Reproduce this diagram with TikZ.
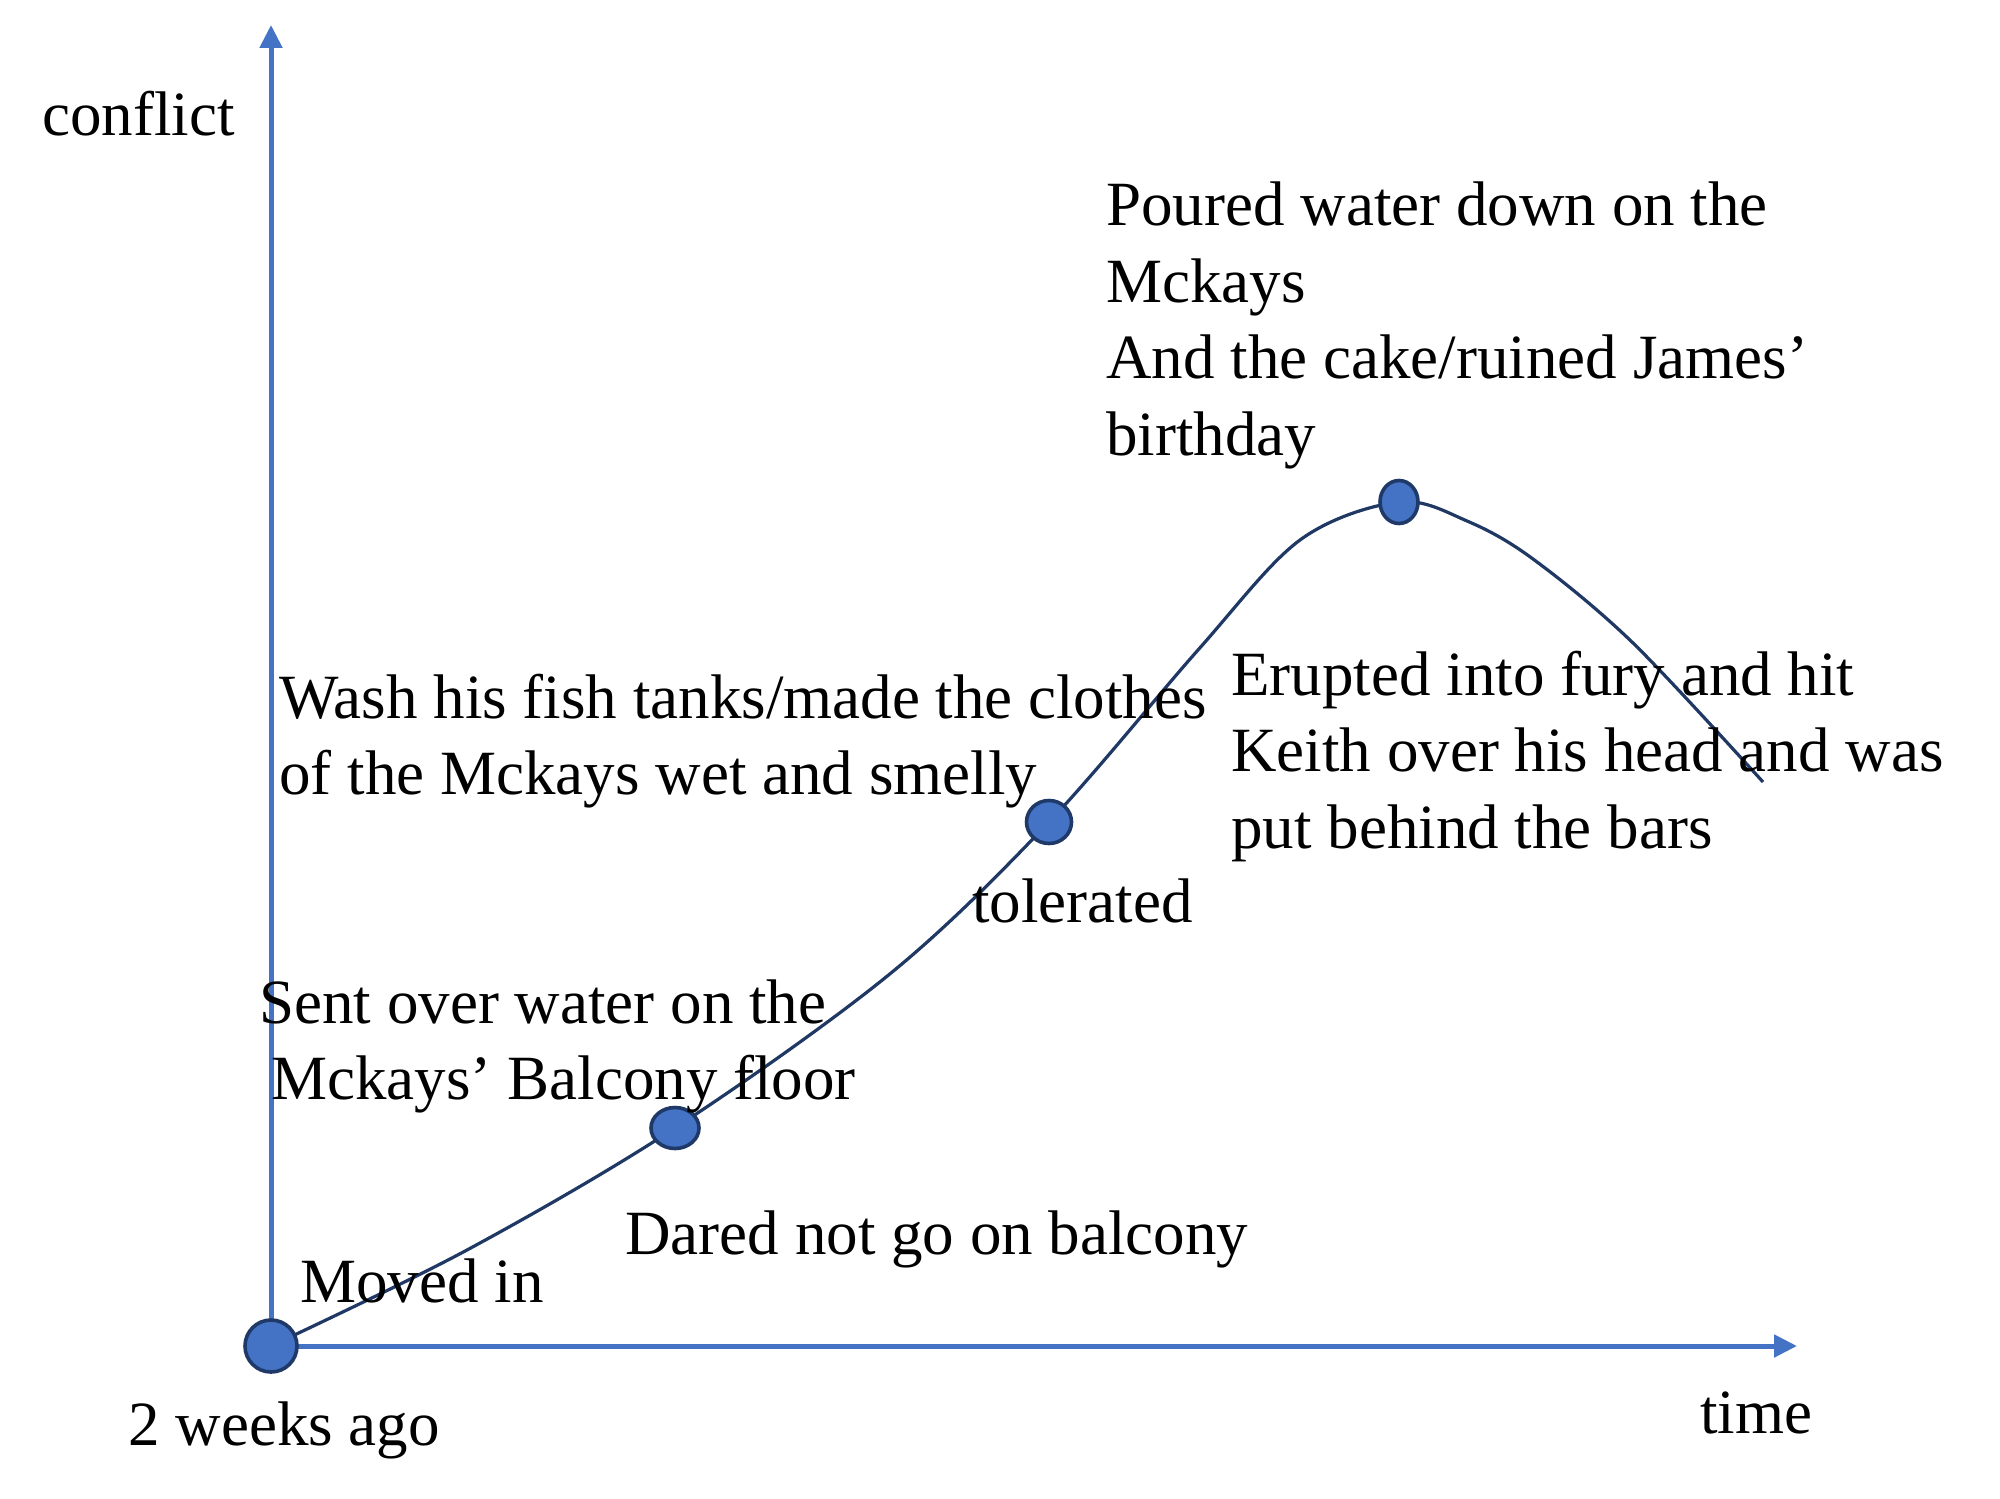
\documentclass[tikz,border=0pt]{standalone}
\usepackage{fontspec}
\setmainfont{Liberation Serif}
\usetikzlibrary{arrows.meta,shapes.geometric}
\definecolor{axisblue}{HTML}{4472C4}
\definecolor{curvenavy}{HTML}{1F3864}
\definecolor{dotline}{HTML}{1F3A68}
\begin{document}
\begin{tikzpicture}[x=0.5pt,y=-0.5pt,
  axisline/.style={draw=axisblue, line width=2.5pt, -{Triangle[length=11.5pt,width=11pt]}},
  curveline/.style={draw=curvenavy, line width=1.6pt},
  dotnode/.style={ellipse, draw=dotline, line width=1.8pt, fill=axisblue, inner sep=0pt},
  lbl/.style={anchor=base west, inner sep=0pt, font=\fontsize{31.5}{38.25}\selectfont, text=black}]
\useasboundingbox (0,0) rectangle (2000,1498);
\fill[white] (0,0) rectangle (2000,1498);
% positions
\coordinate (o) at (271,1346);
\coordinate (b) at (675,1128);
\coordinate (t) at (1049,822);
\coordinate (p) at (1399,502);
\coordinate (ytip) at (271,25);
\coordinate (xtip) at (1797,1346);
\coordinate (cend) at (1763,782);
% axes
\draw[axisline] (o) -- (ytip);
\draw[axisline] (o) -- (xtip);
% curve
\draw[curveline] plot[smooth, tension=0.55] coordinates {(o) (467,1250) (b) (891,973) (t) (1198,650) (1300,540) (p) (1467,521) (1533,559) (1633,643) (cend)};
% dots
\node[dotnode, minimum width=26pt, minimum height=26pt] (odot) at (o) {};
\node[dotnode, minimum width=24pt, minimum height=20.5pt] (bdot) at (b) {};
\node[dotnode, minimum width=22.5pt, minimum height=21.5pt] (tdot) at (t) {};
\node[dotnode, minimum width=19pt, minimum height=21.5pt] (pdot) at (p) {};
% labels
\node[lbl] (conflict) at (42,136) {conflict};
\node[lbl] (time) at (1700,1433) {time};
\node[lbl] (ago) at (128,1445) {2 weeks ago};
\node[lbl] (moved) at (300,1302) {Moved in};
\node[lbl] (dared) at (625,1254) {Dared not go on balcony};
\node[lbl] (tol) at (972,922) {tolerated};
\node[lbl] (sent) at (259,1023) {\begin{tabular}[t]{@{}l@{}}Sent over water on the\\\hspace*{6pt}Mckays’ Balcony floor\end{tabular}};
\node[lbl] (wash) at (279,718) {\begin{tabular}[t]{@{}l@{}}Wash his fish tanks/made the clothes\\of the Mckays wet and smelly\end{tabular}};
\node[lbl] (pour) at (1106,226) {\begin{tabular}[t]{@{}l@{}}Poured water down on the\\Mckays\\And the cake/ruined James’\\birthday\end{tabular}};
\node[lbl] (erupt) at (1231,695) {\begin{tabular}[t]{@{}l@{}}Erupted into fury and hit\\Keith over his head and was\\put behind the bars\end{tabular}};
\end{tikzpicture}
\end{document}
